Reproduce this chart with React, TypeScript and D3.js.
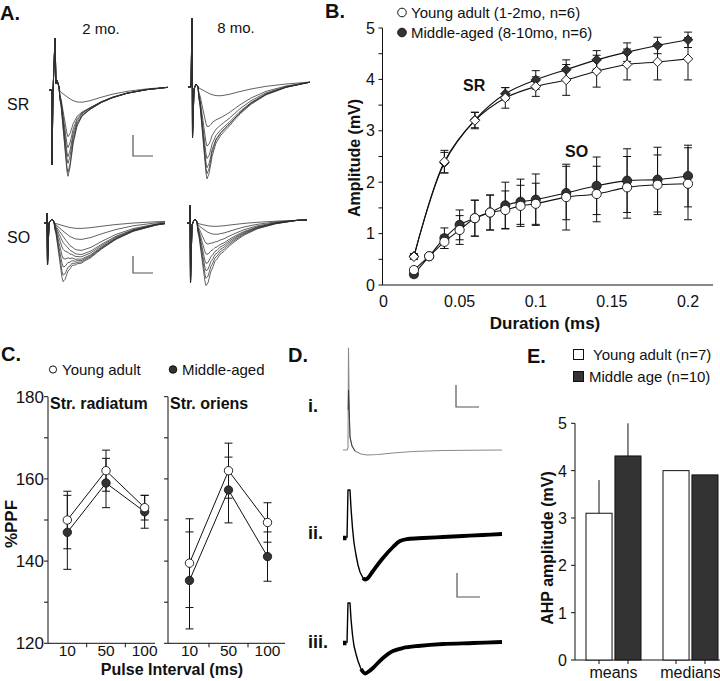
import React from 'react';
import * as d3 from 'd3';

const FONT = '"Liberation Sans", Arial, Helvetica, sans-serif';
const DARK = '#333333';

// ---------------- Panel A: field potential templates ----------------
const fastT = [0, 6, 9, 12, 15, 16, 18, 21, 25, 30, 38, 50];
const fastV = [0, 0, 0.15, 0.55, 0.95, 1, 0.85, 0.5, 0.22, 0.08, 0.02, 0];
const slowT = [0, 6, 10, 15, 20, 25, 30, 38, 48, 60, 75, 95, 120];
const slowV = [0, 0.02, 0.25, 0.55, 0.82, 0.97, 1, 0.9, 0.68, 0.45, 0.25, 0.1, 0];

const sr2Fast = [0, 35, 46, 55, 61, 70, 74];
const sr2Slow = [13, 20, 20, 20, 21, 21, 21];
const sr8Fast = [0, 22, 38, 48, 56, 62, 66];
const sr8Slow = [10, 30, 36, 40, 42, 42, 44];
const so2Fast = [0, 0, 0, 4, 10, 18, 26, 34, 40];
const so2Slow = [6, 17, 28, 32, 34, 36, 37, 38, 39];
const so8Fast = [0, 0, 8, 16, 24, 30, 36, 42];
const so8Slow = [4, 12, 18, 22, 24, 26, 28, 30];

const sr2Artifact = [[-3, 0], [0, 0], [0, 75], [1, 2], [3, -52], [4, -6], [5, -10], [7, -3]];
const sr8Artifact = [[-3, 0], [0, 0], [1, -69], [1.5, 51], [3, 2], [5, -3], [6, -2], [7, 0]];
const so2Artifact = [[-3, 0], [0, 0], [0, -10], [0.5, 42], [2, 0], [4, -3], [5, -4], [7, -1]];
const so8Artifact = [[-3, 0], [0, 0], [0, -18], [0.5, 60], [2, 2], [4, -3], [5, -4], [7, -1]];

// ---------------- Panel B ----------------
const srDur = [0.02, 0.04, 0.06, 0.08, 0.1, 0.12, 0.14, 0.16, 0.18, 0.2];
const srYoung = [0.55, 2.4, 3.2, 3.64, 3.86, 3.99, 4.16, 4.29, 4.34, 4.4];
const srYoungErr = [0.05, 0.22, 0.16, 0.2, 0.19, 0.3, 0.31, 0.3, 0.35, 0.41];
const srMiddle = [0.56, 2.38, 3.21, 3.72, 3.99, 4.19, 4.38, 4.53, 4.66, 4.77];
const srMiddleErr = [0.05, 0.2, 0.15, 0.12, 0.18, 0.19, 0.18, 0.18, 0.16, 0.15];
const soDur = [0.02, 0.03, 0.04, 0.05, 0.06, 0.07, 0.08, 0.09, 0.1, 0.12, 0.14, 0.16, 0.18, 0.2];
const soYoung = [0.29, 0.56, 0.84, 1.07, 1.3, 1.41, 1.46, 1.54, 1.58, 1.71, 1.77, 1.9, 1.95, 1.97];
const soYoungErr = [0.05, 0.05, 0.13, 0.28, 0.35, 0.34, 0.37, 0.4, 0.4, 0.64, 0.54, 0.6, 0.58, 0.7];
const soMiddle = [0.21, 0.56, 0.91, 1.17, 1.3, 1.41, 1.55, 1.62, 1.66, 1.79, 1.93, 2.03, 2.05, 2.12];
const soMiddleErr = [0.05, 0.05, 0.2, 0.29, 0.35, 0.34, 0.45, 0.44, 0.5, 0.52, 0.56, 0.62, 0.63, 0.6];
const bYTicks = [0, 1, 2, 3, 4, 5];
const bXTicks = [0, 0.05, 0.1, 0.15, 0.2];

// ---------------- Panel C ----------------
const intervals = ['10', '50', '100'];
const radYoung = [150, 162, 153];
const radYoungErr = [7, 5, 3];
const radMiddle = [147, 159, 152];
const radMiddleErr = [9, 6, 4];
const oriYoung = [139.5, 162, 149.4];
const oriYoungErr = [10.8, 6.7, 4.8];
const oriMiddle = [135.3, 157.3, 141.1];
const oriMiddleErr = [11.8, 8, 6];
const cYTicks = [120, 140, 160, 180];
const cYMinor = [130, 150, 170];

// ---------------- Panel D (AHP traces): stimulus part (thin) and recording part (thick) ----------------
const dTrace1 = [[0, 0], [4, 0], [5, 2], [5.5, 102], [6.2, 40], [7, 13], [9, 4], [12, -1], [18, -4], [24, -5], [35, -4.5], [50, -3], [70, -1.5], [100, -0.5], [159, 0]];
const dTrace1Dark = [[5.2, 40], [5.5, 60], [6.2, 40], [7, 13], [9, 4], [12, -1]];
const dTrace2Stim = [[4, 0], [5, 48], [7, 48], [8, 30], [9.5, 10], [11, -5], [13, -17], [15, -27], [17, -34], [20, -40], [22, -41]];
const dTrace2 = [[20, -40], [22, -41.5], [25, -40], [30, -33], [40, -20], [50, -9], [57, -3], [65, -1], [80, 0], [100, 1], [120, 2], [140, 3], [159, 4]];
const dTrace3Stim = [[4, 0], [5, 40], [7, 40], [8, 24], [9.5, 8], [11, -3], [13, -11], [15, -18], [18, -26], [21, -30]];
const dTrace3 = [[18, -26], [22, -30.5], [25, -29], [30, -25], [40, -15], [50, -8], [60, -5], [75, -3], [100, -1], [130, 0], [159, 1]];
const dPreStim = [[0, 0], [3.5, 0]];

// ---------------- Panel E ----------------
const ahpGroups = ['means', 'medians'];
const ahpYoung = [3.1, 4.0];
const ahpYoungErr = [0.7, 0];
const ahpMiddle = [4.31, 3.91];
const ahpMiddleErr = [0.69, 0];
const eYTicks = [0, 1, 2, 3, 4, 5];

function ScaleBar({ x, y, w, h }: { x: number; y: number; w: number; h: number }) {
  return <path d={`M${x},${y - h}V${y}H${x + w}`} fill="none" stroke="#555" strokeWidth={1.2} />;
}

function PanelA() {
  const fastS = d3.scaleLinear().domain(fastT).range(fastV).clamp(true);
  const slowS = d3.scaleLinear().domain(slowT).range(slowV).clamp(true);
  const quads = [
    { x0: 52, y0: 90, span: 116, drift: 3, stretch: 1, fast: sr2Fast, slow: sr2Slow, art: sr2Artifact },
    { x0: 191, y0: 87, span: 119, drift: 5, stretch: 1, fast: sr8Fast, slow: sr8Slow, art: sr8Artifact },
    { x0: 47, y0: 223, span: 118, drift: 2, stretch: 1.15, fast: so2Fast, slow: so2Slow, art: so2Artifact },
    { x0: 190, y0: 223, span: 117, drift: 3, stretch: 0.9, fast: so8Fast, slow: so8Slow, art: so8Artifact },
  ];
  return (
    <g>
      <text x={0} y={20} fontSize={20} fontWeight="bold">A.</text>
      <text x={101} y={34} fontSize={15} textAnchor="middle">2 mo.</text>
      <text x={236} y={33} fontSize={15} textAnchor="middle">8 mo.</text>
      <text x={7} y={110} fontSize={16}>SR</text>
      <text x={7} y={243} fontSize={16}>SO</text>
      {quads.map((q, qi) => {
        const xs = d3.scaleLinear().domain([0, q.span]).range([q.x0, q.x0 + q.span]);
        const ys = d3.scaleLinear().domain([0, 1]).range([q.y0, q.y0 + 1]);
        const line = d3.line<number[]>().x(d => xs(d[0])).y(d => ys(d[1]));
        const ts = d3.range(8, q.span + 0.5, 1);
        return (
          <g key={qi}>
            {q.fast.map((fa, i) => {
              const sa = q.slow[i];
              const pts = q.art.concat(ts.map(t => [t, fa * fastS(t) + sa * slowS(t / q.stretch) - (q.drift * t) / q.span]));
              return <path key={i} d={line(pts) || ''} fill="none" stroke="#2e2e2e" strokeWidth={0.75} />;
            })}
          </g>
        );
      })}
      <ScaleBar x={133} y={156} w={20} h={21} />
      <ScaleBar x={133} y={273} w={20} h={17} />
    </g>
  );
}

function PanelB() {
  const x = d3.scaleLinear().domain([0, 0.2]).range([383.5, 688]);
  const y = d3.scaleLinear().domain([0, 5]).range([285, 28]);
  const line = d3.line<[number, number]>().x(d => x(d[0])).y(d => y(d[1])).curve(d3.curveCatmullRom.alpha(0.5));
  const diamond = d3.symbol(d3.symbolSquare, 46)() || '';
  const minor = d3.range(0, 5.01, 0.5);
  const errBars = (xs: number[], vs: number[], es: number[], key: string) =>
    xs.map((d, i) => {
      const cx = x(d), top = y(vs[i] + es[i]), bot = y(vs[i] - es[i]);
      return <path key={key + i} d={`M${cx},${top}V${bot}M${cx - 4},${top}H${cx + 4}M${cx - 4},${bot}H${cx + 4}`} stroke="#111" strokeWidth={1} fill="none" />;
    });
  return (
    <g>
      <text x={325} y={18} fontSize={20} fontWeight="bold">B.</text>
      <circle cx={402} cy={12.5} r={4.3} fill="#fff" stroke="#111" strokeWidth={1} />
      <text x={411} y={17.5} fontSize={15}>Young adult (1-2mo, n=6)</text>
      <circle cx={402} cy={32.5} r={4.3} fill={DARK} stroke="#111" strokeWidth={1} />
      <text x={411} y={37.5} fontSize={15}>Middle-aged (8-10mo, n=6)</text>
      <line x1={382.5} x2={382.5} y1={y(5)} y2={y(0)} stroke="#111" strokeWidth={1} />
      <line x1={382.5} x2={713} y1={y(0)} y2={y(0)} stroke="#111" strokeWidth={1} />
      {minor.map(v => <line key={v} x1={378.5} x2={382.5} y1={y(v)} y2={y(v)} stroke="#111" strokeWidth={1} />)}
      {bYTicks.map(v => <text key={v} x={375} y={y(v) + 5.5} fontSize={16} textAnchor="end">{v}</text>)}
      {bXTicks.map(v => <text key={v} x={x(v)} y={307} fontSize={16} textAnchor="middle">{v}</text>)}
      <text x={545} y={329} fontSize={17} fontWeight="bold" textAnchor="middle">Duration (ms)</text>
      <text transform={`translate(360,158) rotate(-90)`} fontSize={16} fontWeight="bold" textAnchor="middle">Amplitude (mV)</text>
      <text x={463} y={91} fontSize={16} fontWeight="bold">SR</text>
      <text x={565} y={157} fontSize={16} fontWeight="bold">SO</text>
      {errBars(soDur, soMiddle, soMiddleErr, 'som')}
      {errBars(soDur, soYoung, soYoungErr, 'soy')}
      {errBars(srDur, srMiddle, srMiddleErr, 'srm')}
      {errBars(srDur, srYoung, srYoungErr, 'sry')}
      <path d={line(srDur.map((d, i) => [d, srMiddle[i]]) as any) || ''} fill="none" stroke="#111" strokeWidth={1.1} />
      <path d={line(srDur.map((d, i) => [d, srYoung[i]]) as any) || ''} fill="none" stroke="#111" strokeWidth={1.1} />
      <path d={line(soDur.map((d, i) => [d, soMiddle[i]]) as any) || ''} fill="none" stroke="#111" strokeWidth={1.1} />
      <path d={line(soDur.map((d, i) => [d, soYoung[i]]) as any) || ''} fill="none" stroke="#111" strokeWidth={1.1} />
      {srDur.map((d, i) => <path key={'dm' + i} d={diamond} transform={`translate(${x(d)},${y(srMiddle[i])}) rotate(45)`} fill={DARK} stroke="#111" strokeWidth={0.8} />)}
      {srDur.map((d, i) => <path key={'dy' + i} d={diamond} transform={`translate(${x(d)},${y(srYoung[i])}) rotate(45)`} fill="#fff" stroke="#111" strokeWidth={0.9} />)}
      {soDur.map((d, i) => <circle key={'cm' + i} cx={x(d)} cy={y(soMiddle[i])} r={4.6} fill={DARK} stroke="#111" strokeWidth={0.8} />)}
      {soDur.map((d, i) => <circle key={'cy' + i} cx={x(d)} cy={y(soYoung[i])} r={4.6} fill="#fff" stroke="#111" strokeWidth={0.9} />)}
    </g>
  );
}

function PanelC() {
  const y = d3.scaleLinear().domain([120, 180]).range([643.3, 396.7]);
  const subs = [
    { title: 'Str. radiatum', ax: 48, xr: [48, 164], axEnd: 155, young: radYoung, yErr: radYoungErr, mid: radMiddle, mErr: radMiddleErr, labels: true },
    { title: 'Str. oriens', ax: 168, xr: [170, 287], axEnd: 285, young: oriYoung, yErr: oriYoungErr, mid: oriMiddle, mErr: oriMiddleErr, labels: false },
  ];
  return (
    <g>
      <text x={1} y={361} fontSize={20} fontWeight="bold">C.</text>
      <circle cx={53} cy={369.5} r={3.6} fill="#fff" stroke="#111" strokeWidth={1} />
      <text x={62} y={375} fontSize={15}>Young adult</text>
      <circle cx={173} cy={369.5} r={3.8} fill={DARK} stroke="#111" strokeWidth={1} />
      <text x={182} y={375} fontSize={15}>Middle-aged</text>
      <text transform={`translate(17,524) rotate(-90)`} fontSize={17} fontWeight="bold" textAnchor="middle">%PPF</text>
      <text x={172} y={675} fontSize={16} fontWeight="bold" textAnchor="middle">Pulse Interval (ms)</text>
      {subs.map((s, si) => {
        const x = d3.scaleBand().domain(intervals).range(s.xr as [number, number]);
        const cx = (k: string) => (x(k) || 0) + x.bandwidth() / 2;
        const line = d3.line<[string, number]>().x(d => cx(d[0])).y(d => y(d[1]));
        const err = (vals: number[], errs: number[], key: string) =>
          intervals.map((k, i) => {
            const px = cx(k), t = y(vals[i] + errs[i]), b = y(vals[i] - errs[i]);
            return <path key={key + i} d={`M${px},${t}V${b}M${px - 4},${t}H${px + 4}M${px - 4},${b}H${px + 4}`} stroke="#111" strokeWidth={1} fill="none" />;
          });
        return (
          <g key={si}>
            <line x1={s.ax} x2={s.ax} y1={y(180)} y2={y(120)} stroke="#111" strokeWidth={1} />
            <line x1={s.ax} x2={s.axEnd} y1={y(120)} y2={y(120)} stroke="#111" strokeWidth={1} />
            {cYTicks.concat(cYMinor).map(v => <line key={v} x1={s.ax - 4} x2={s.ax} y1={y(v)} y2={y(v)} stroke="#111" strokeWidth={1} />)}
            {s.labels && cYTicks.map(v => <text key={'l' + v} x={44} y={y(v) + 6} fontSize={17} textAnchor="end">{v}</text>)}
            {intervals.slice(1).map(k => <line key={'t' + k} x1={x(k)} x2={x(k)} y1={y(120)} y2={y(120) + 4} stroke="#111" strokeWidth={1} />)}
            {intervals.map(k => <text key={'x' + k} x={cx(k)} y={656} fontSize={15.5} textAnchor="middle">{k}</text>)}
            <text x={s.ax + 2} y={409} fontSize={16} fontWeight="bold">{s.title}</text>
            {err(s.mid, s.mErr, 'm')}
            {err(s.young, s.yErr, 'y')}
            <path d={line(intervals.map((k, i) => [k, s.mid[i]]) as any) || ''} fill="none" stroke="#111" strokeWidth={1} />
            <path d={line(intervals.map((k, i) => [k, s.young[i]]) as any) || ''} fill="none" stroke="#111" strokeWidth={1} />
            {intervals.map((k, i) => <circle key={'cm' + k} cx={cx(k)} cy={y(s.mid[i])} r={4.2} fill={DARK} stroke="#111" strokeWidth={0.8} />)}
            {intervals.map((k, i) => <circle key={'cy' + k} cx={cx(k)} cy={y(s.young[i])} r={4.2} fill="#fff" stroke="#111" strokeWidth={0.9} />)}
          </g>
        );
      })}
    </g>
  );
}

function PanelD() {
  const x = d3.scaleLinear().domain([0, 159]).range([343, 502]);
  const mk = (base: number) => {
    const y = d3.scaleLinear().domain([0, 1]).range([base, base - 1]);
    return {
      lin: d3.line<number[]>().x(d => x(d[0])).y(d => y(d[1])),
      smooth: d3.line<number[]>().x(d => x(d[0])).y(d => y(d[1])).curve(d3.curveCatmullRom.alpha(0.5)),
    };
  };
  const l1 = mk(450), l2 = mk(538), l3 = mk(643);
  return (
    <g>
      <text x={288} y={362} fontSize={20} fontWeight="bold">D.</text>
      <text x={308} y={412} fontSize={18} fontWeight="bold">i.</text>
      <text x={308} y={539} fontSize={18} fontWeight="bold">ii.</text>
      <text x={308} y={648} fontSize={18} fontWeight="bold">iii.</text>
      <path d={l1.lin(dTrace1) || ''} fill="none" stroke="#8a8a8a" strokeWidth={1.1} strokeLinejoin="round" />
      <path d={l1.lin(dTrace1Dark) || ''} fill="none" stroke="#333" strokeWidth={0.9} />
      {/* ii */}
      <path d={l2.lin(dPreStim) || ''} fill="none" stroke="#000" strokeWidth={4.5} />
      <path d={l2.lin(dTrace2Stim) || ''} fill="none" stroke="#000" strokeWidth={1.4} strokeLinejoin="round" />
      <path d={l2.smooth(dTrace2) || ''} fill="none" stroke="#000" strokeWidth={3.8} strokeLinejoin="round" />
      {/* iii */}
      <path d={l3.lin(dPreStim) || ''} fill="none" stroke="#000" strokeWidth={4.5} />
      <path d={l3.lin(dTrace3Stim) || ''} fill="none" stroke="#000" strokeWidth={1.4} strokeLinejoin="round" />
      <path d={l3.smooth(dTrace3) || ''} fill="none" stroke="#000" strokeWidth={3.8} strokeLinejoin="round" />
      <ScaleBar x={456} y={407} w={23} h={22} />
      <ScaleBar x={457} y={597} w={23} h={24} />
    </g>
  );
}

function PanelE() {
  const y = d3.scaleLinear().domain([0, 5]).range([660, 423.3]);
  const x0 = d3.scaleBand().domain(ahpGroups).range([584, 738]);
  const x1 = d3.scaleBand().domain(['young', 'middle']).range([2, 57]).paddingInner(0.1);
  return (
    <g>
      <text x={527} y={363} fontSize={20} fontWeight="bold">E.</text>
      <rect x={573.5} y={349.5} width={10} height={10} fill="#fff" stroke="#111" strokeWidth={1} />
      <text x={593} y={360} fontSize={15}>Young adult (n=7)</text>
      <rect x={573.5} y={371.5} width={10} height={10} fill={DARK} stroke="#111" strokeWidth={1} />
      <text x={589} y={382} fontSize={15}>Middle age (n=10)</text>
      <text transform={`translate(553,548) rotate(-90)`} fontSize={16} fontWeight="bold" textAnchor="middle">AHP amplitude (mV)</text>
      <line x1={575} x2={575} y1={y(5)} y2={y(0)} stroke="#111" strokeWidth={1} />
      <line x1={575} x2={720} y1={y(0)} y2={y(0)} stroke="#111" strokeWidth={1} />
      {eYTicks.map(v => <line key={v} x1={571} x2={575} y1={y(v)} y2={y(v)} stroke="#111" strokeWidth={1} />)}
      {eYTicks.map(v => <text key={'l' + v} x={567} y={y(v) + 6} fontSize={16} textAnchor="end">{v}</text>)}
      {ahpGroups.map((g, gi) => {
        const gx = x0(g) || 0;
        const bars = [
          { k: 'young', v: ahpYoung[gi], e: ahpYoungErr[gi], fill: '#fff' },
          { k: 'middle', v: ahpMiddle[gi], e: ahpMiddleErr[gi], fill: DARK },
        ];
        return (
          <g key={g}>
            {bars.map(b => {
              const bx = gx + (x1(b.k) || 0);
              const cxm = bx + x1.bandwidth() / 2;
              return (
                <g key={b.k}>
                  {b.e > 0 && <line x1={cxm} x2={cxm} y1={y(b.v)} y2={y(b.v + b.e)} stroke="#111" strokeWidth={1} />}
                  <rect x={bx} y={y(b.v)} width={x1.bandwidth()} height={y(0) - y(b.v)} fill={b.fill} stroke="#111" strokeWidth={1} />
                  <line x1={cxm} x2={cxm} y1={y(0)} y2={y(0) + 4} stroke="#111" strokeWidth={1} />
                </g>
              );
            })}
            <text x={gx + 29.5} y={678} fontSize={16} textAnchor="middle">{g}</text>
          </g>
        );
      })}
    </g>
  );
}

export default function App() {
  return (
    <svg width={720} height={681} viewBox="0 0 720 681" style={{ position: 'absolute', left: 0, top: 0, background: '#fff' }} fontFamily={FONT} fill="#111">
      <rect width={720} height={681} fill="#fff" />
      <PanelA />
      <PanelB />
      <PanelC />
      <PanelD />
      <PanelE />
    </svg>
  );
}
